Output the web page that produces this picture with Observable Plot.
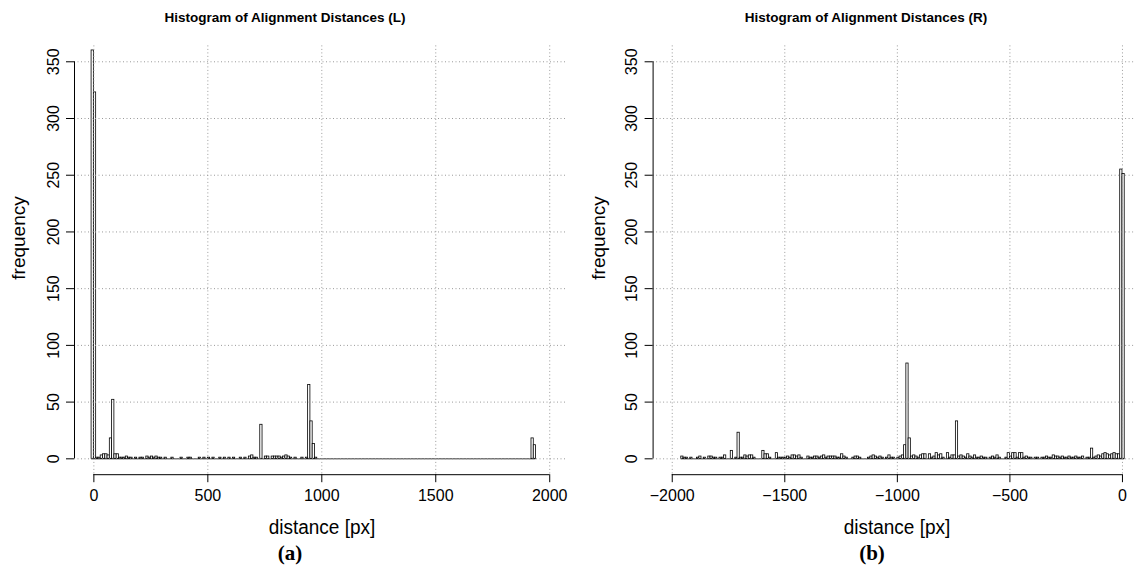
<!DOCTYPE html>
<html>
<head>
<meta charset="utf-8">
<script src="https://cdn.jsdelivr.net/npm/d3@7"></script>
<script src="https://cdn.jsdelivr.net/npm/@observablehq/plot@0.6"></script>
<style>
  html, body { margin: 0; padding: 0; background: #fff; overflow: hidden; }
  #fig { position: relative; width: 1135px; height: 571px; }
  .panel { position: absolute; top: 0; }
  .txt { position: absolute; white-space: nowrap; color: #000; }
  .title { font: bold 13.5px "Liberation Sans", Arial, sans-serif; transform: translate(-50%, -50%); }
  .xlab { font: 20px "Liberation Sans", Arial, sans-serif; transform: translate(-50%, -50%) scaleX(0.95); }
  .ylab { font: 19px "Liberation Sans", Arial, sans-serif; transform: translate(-50%, -50%) rotate(-90deg); }
  .tag { font: bold 21px "Liberation Serif", "Times New Roman", serif; transform: translate(-50%, -50%); }
</style>
</head>
<body>
<div id="fig"></div>
<script>
// Histogram bins are 10 px wide; each list holds counts from its first bin upward.
const binWidth = 10;

// (a) left-edge distances, bins from -10 to 1940
const leftStart = -10;
const leftCounts = [
  360, 323, 1, 1, 3, 4, 4, 3, 18, 52,        // -10 .. 80
  4, 4, 1, 1, 1, 2, 1, 1, 0, 1,              // 90 .. 180
  0, 1, 1, 0, 2, 1, 2, 1, 2, 1,              // 190 .. 280
  1, 0, 1, 0, 0, 1, 0, 0, 0, 1,              // 290 .. 380
  0, 0, 1, 1, 0, 0, 0, 1, 0, 1,              // 390 .. 480
  0, 1, 0, 1, 0, 0, 1, 0, 1, 0,              // 490 .. 580
  1, 0, 1, 0, 0, 1, 0, 1, 0, 2,              // 590 .. 680
  3, 1, 1, 0, 30, 0, 2, 2, 0, 2,             // 690 .. 780
  2, 2, 2, 1, 2, 3, 2, 1, 0, 1,              // 790 .. 880
  0, 0, 1, 0, 1, 65, 33, 13, 1, 0,           // 890 .. 980
  0, 0, 0, 0, 0, 0, 0, 0, 0, 0,              // 990 .. 1080
  0, 0, 0, 0, 0, 0, 0, 0, 0, 0,              // 1090 .. 1180
  0, 0, 0, 0, 0, 0, 0, 0, 0, 0,              // 1190 .. 1280
  0, 0, 0, 0, 0, 0, 0, 0, 0, 0,              // 1290 .. 1380
  0, 0, 0, 0, 0, 0, 0, 0, 0, 0,              // 1390 .. 1480
  0, 0, 0, 0, 0, 0, 0, 0, 0, 0,              // 1490 .. 1580
  0, 0, 0, 0, 0, 0, 0, 0, 0, 0,              // 1590 .. 1680
  0, 0, 0, 0, 0, 0, 0, 0, 0, 0,              // 1690 .. 1780
  0, 0, 0, 0, 0, 0, 0, 0, 0, 0,              // 1790 .. 1880
  0, 0, 0, 18, 12                            // 1890 .. 1930
];

// (b) right-edge distances, bins from -1960 to 0
const rightStart = -1960;
const rightCounts = [
  2, 1, 1, 0, 1, 0, 0, 1, 2, 0,              // -1960 .. -1870
  1, 0, 2, 2, 1, 1, 0, 1, 1, 3,              // -1860 .. -1770
  0, 0, 7, 0, 1, 23, 1, 1, 3, 2,             // -1760 .. -1670
  3, 3, 1, 0, 0, 0, 7, 4, 4, 1,              // -1660 .. -1570
  0, 0, 5, 1, 1, 1, 1, 2, 1, 3,              // -1560 .. -1470
  3, 2, 3, 1, 0, 0, 2, 1, 1, 2,              // -1460 .. -1370
  2, 1, 2, 3, 1, 2, 2, 2, 2, 1,              // -1360 .. -1270
  1, 4, 2, 1, 0, 0, 1, 2, 2, 1,              // -1260 .. -1170
  0, 0, 0, 1, 2, 3, 2, 1, 2, 1,              // -1160 .. -1070
  0, 1, 3, 1, 1, 0, 1, 2, 3, 12,             // -1060 .. -970
  84, 18, 2, 3, 2, 1, 3, 4, 4, 0,            // -960 .. -870
  4, 1, 2, 5, 3, 4, 1, 0, 5, 1,              // -860 .. -770
  3, 3, 33, 2, 3, 2, 1, 4, 2, 1,             // -760 .. -670
  3, 1, 1, 2, 1, 1, 0, 1, 2, 1,              // -660 .. -570
  3, 1, 0, 0, 1, 5, 2, 5, 5, 1,              // -560 .. -470
  5, 5, 1, 2, 1, 1, 0, 1, 1, 0,              // -460 .. -370
  1, 1, 2, 1, 1, 3, 2, 2, 1, 2,              // -360 .. -270
  1, 1, 2, 1, 1, 2, 1, 1, 2, 0,              // -260 .. -170
  1, 1, 9, 1, 2, 3, 2, 4, 5, 4,              // -160 .. -70
  3, 4, 5, 4, 4, 255, 251                    // -60 .. 0
];

// Axis ticks
const yTicks = [0, 50, 100, 150, 200, 250, 300, 350];
const leftXTicks = [0, 500, 1000, 1500, 2000];
const rightXTicks = [-2000, -1500, -1000, -500, 0];

// Plot-region limits (data range widened by 4%)
const yLim = [-14, 364];
const leftXLim = [-85, 2085];
const rightXLim = [-2085, 85];

const toBins = (start, counts) =>
  counts.map((count, i) => ({x0: start + i * binWidth, x1: start + (i + 1) * binWidth, count}));

const fmt = d => (d < 0 ? "\u2212" + (-d) : String(d));
const tickFont = "Liberation Sans, Arial, sans-serif";

function panel({bins, xTicks, xLim, left, width, marginLeft, xRange}) {
  const first = bins[0].x0, last = bins[bins.length - 1].x1;
  const plot = Plot.plot({
    width,
    height: 571,
    marginLeft,
    marginRight: 0,
    marginTop: 45.4,
    marginBottom: 96.8,
    style: {background: "transparent", color: "black", overflow: "visible"},
    x: {domain: xLim, range: xRange},
    y: {domain: yLim, range: [474.2, 45.4]},
    marks: [
      Plot.rectY(bins.filter(d => d.count > 0), {
        x1: "x0", x2: "x1", y1: 0, y2: "count",
        fill: "white", stroke: "black", strokeWidth: 0.8, inset: 0
      }),
      Plot.ruleY([0], {x1: first, x2: last, stroke: "black", strokeWidth: 0.8}),
      Plot.gridX({ticks: xTicks, stroke: "#9a9a9a", strokeOpacity: 1, strokeDasharray: "1,2.5", strokeWidth: 1}),
      Plot.gridY({ticks: yTicks, stroke: "#9a9a9a", strokeOpacity: 1, strokeDasharray: "1,2.5", strokeWidth: 1}),
      Plot.ruleY([yLim[0]], {x1: xTicks[0], x2: xTicks[xTicks.length - 1], stroke: "black", strokeWidth: 1}),
      Plot.ruleX([xLim[0]], {y1: yTicks[0], y2: yTicks[yTicks.length - 1], stroke: "black", strokeWidth: 1}),
      Plot.axisX({
        ticks: xTicks, tickSize: 8, tickPadding: 7, tickFormat: fmt, label: null,
        fontSize: 16, fontFamily: tickFont
      }),
      Plot.axisY({
        ticks: yTicks, tickSize: 8, tickPadding: 8, tickRotate: -90, label: null,
        fontSize: 16, fontFamily: tickFont
      })
    ]
  });
  plot.classList.add("panel");
  plot.style.left = left + "px";
  return plot;
}

const fig = document.getElementById("fig");

fig.appendChild(panel({
  bins: toBins(leftStart, leftCounts), xTicks: leftXTicks, xLim: leftXLim,
  left: 0, width: 567, marginLeft: 74, xRange: [74, 568.6]
}));
fig.appendChild(panel({
  bins: toBins(rightStart, rightCounts), xTicks: rightXTicks, xLim: rightXLim,
  left: 567, width: 568, marginLeft: 85.6, xRange: [85.6, 574.1]
}));

// Titles, axis labels and panel tags
const texts = [
  {cls: "title", x: 285, y: 17, t: "Histogram of Alignment Distances (L)"},
  {cls: "title", x: 866, y: 17, t: "Histogram of Alignment Distances (R)"},
  {cls: "ylab", x: 19, y: 238, t: "frequency"},
  {cls: "ylab", x: 599, y: 238, t: "frequency"},
  {cls: "xlab", x: 322, y: 527, t: "distance [px]"},
  {cls: "xlab", x: 897, y: 527, t: "distance [px]"},
  {cls: "tag", x: 290, y: 553, t: "(a)"},
  {cls: "tag", x: 872, y: 553, t: "(b)"}
];
for (const d of texts) {
  const el = document.createElement("div");
  el.className = "txt " + d.cls;
  el.style.left = d.x + "px";
  el.style.top = d.y + "px";
  el.textContent = d.t;
  fig.appendChild(el);
}
</script>
</body>
</html>
